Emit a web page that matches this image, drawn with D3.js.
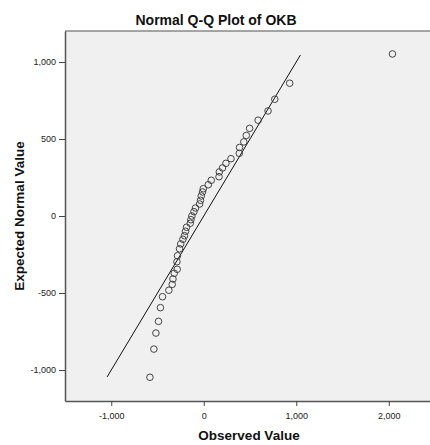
<!DOCTYPE html>
<html>
<head>
<meta charset="utf-8">
<script src="https://cdn.jsdelivr.net/npm/d3@7"></script>
<style>
  body { margin: 0; background: #fff; }
  text { font-family: Arial, "Liberation Sans", sans-serif; }
</style>
</head>
<body>
<div id="chart"></div>
<script>
var observed = [2040, 929, 768, 695, 588, 496, 460, 433, 387, 384,
    294, 240, 203, 168, 165, 81, 49, -5, -13, -27,
    -35, -45, -89, -106, -128, -139, -146, -186, -197, -208,
    -225, -249, -262, -284, -290, -287, -319, -333, -341, -377,
    -446, -468, -489, -517, -539, -582];
var expected = [1052, 862, 758, 682, 622, 569, 523, 481, 445, 407,
    372, 342, 312, 286, 255, 232, 203, 177, 156, 130,
    102, 78, 52, 28, 0, -24, -47, -73, -99, -128,
    -151, -181, -213, -258, -297, -346, -372, -409, -444, -482,
    -524, -595, -684, -760, -864, -1047];
var refLine = [-1045, 1045];
var xTicks = [-1000, 0, 1000, 2000];
var yTicks = [-1000, -500, 0, 500, 1000];

var W = 430, H = 445;
var margin = {top: 31, right: -5, bottom: 44, left: 65},
    width = W - margin.left - margin.right,
    height = H - margin.top - margin.bottom;

var svg = d3.select("#chart")
  .append("svg")
    .attr("width", W)
    .attr("height", H);

var x = d3.scaleLinear().domain([-1500, 2500]).range([0, width]);
var y = d3.scaleLinear().domain([-1201, 1201]).range([height, 0]);

var fmt = function(d){ return d3.format(",")(d).replace("\u2212", "-"); };

svg.append("text")
    .attr("x", 216)
    .attr("y", 25)
    .attr("text-anchor", "middle")
    .style("font-size", "14px")
    .style("font-weight", "bold")
    .attr("fill", "#111")
    .text("Normal Q-Q Plot of OKB");

var g = svg.append("g")
    .attr("transform", "translate(" + margin.left + "," + margin.top + ")");

g.append("rect")
    .attr("width", width)
    .attr("height", height)
    .attr("fill", "#f0f0f0");

// frame
g.append("line").attr("x1", 0).attr("x2", width).attr("y1", 0).attr("y2", 0)
    .attr("stroke", "#888").attr("stroke-width", 1.5);

var xAxis = g.append("g")
    .attr("transform", "translate(0," + height + ")")
    .call(d3.axisBottom(x).tickValues(xTicks).tickFormat(fmt).tickSize(5).tickSizeOuter(0));
var yAxis = g.append("g")
    .call(d3.axisLeft(y).tickValues(yTicks).tickFormat(fmt).tickSize(6).tickSizeOuter(0));

[xAxis, yAxis].forEach(function(a){
  a.select(".domain").attr("stroke", "#555").attr("stroke-width", 1.5);
  a.selectAll(".tick line").attr("stroke", "#444");
  a.selectAll(".tick text")
    .style("font-size", "9px")
    .style("font-family", "Arial, 'Liberation Sans', sans-serif")
    .attr("fill", "#222");
});
xAxis.selectAll(".tick text").attr("dy", "1.1em");

// reference line
g.append("line")
    .attr("x1", x(refLine[0])).attr("y1", y(refLine[0]))
    .attr("x2", x(refLine[1])).attr("y2", y(refLine[1]))
    .attr("stroke", "#111").attr("stroke-width", 1);

g.selectAll("circle")
    .data(observed)
    .enter()
    .append("circle")
    .attr("cx", function(d){ return x(d); })
    .attr("cy", function(d, i){ return y(expected[i]); })
    .attr("r", 3.3)
    .attr("fill", "none")
    .attr("stroke", "#444")
    .attr("stroke-width", 1);

svg.append("text")
    .attr("x", 249)
    .attr("y", 440)
    .attr("text-anchor", "middle")
    .style("font-size", "13.5px")
    .style("font-weight", "bold")
    .attr("fill", "#111")
    .text("Observed Value");

svg.append("text")
    .attr("transform", "translate(24," + (margin.top + height / 2) + ") rotate(-90)")
    .attr("text-anchor", "middle")
    .style("font-size", "13.5px")
    .style("font-weight", "bold")
    .attr("fill", "#111")
    .text("Expected Normal Value");
</script>
</body>
</html>
